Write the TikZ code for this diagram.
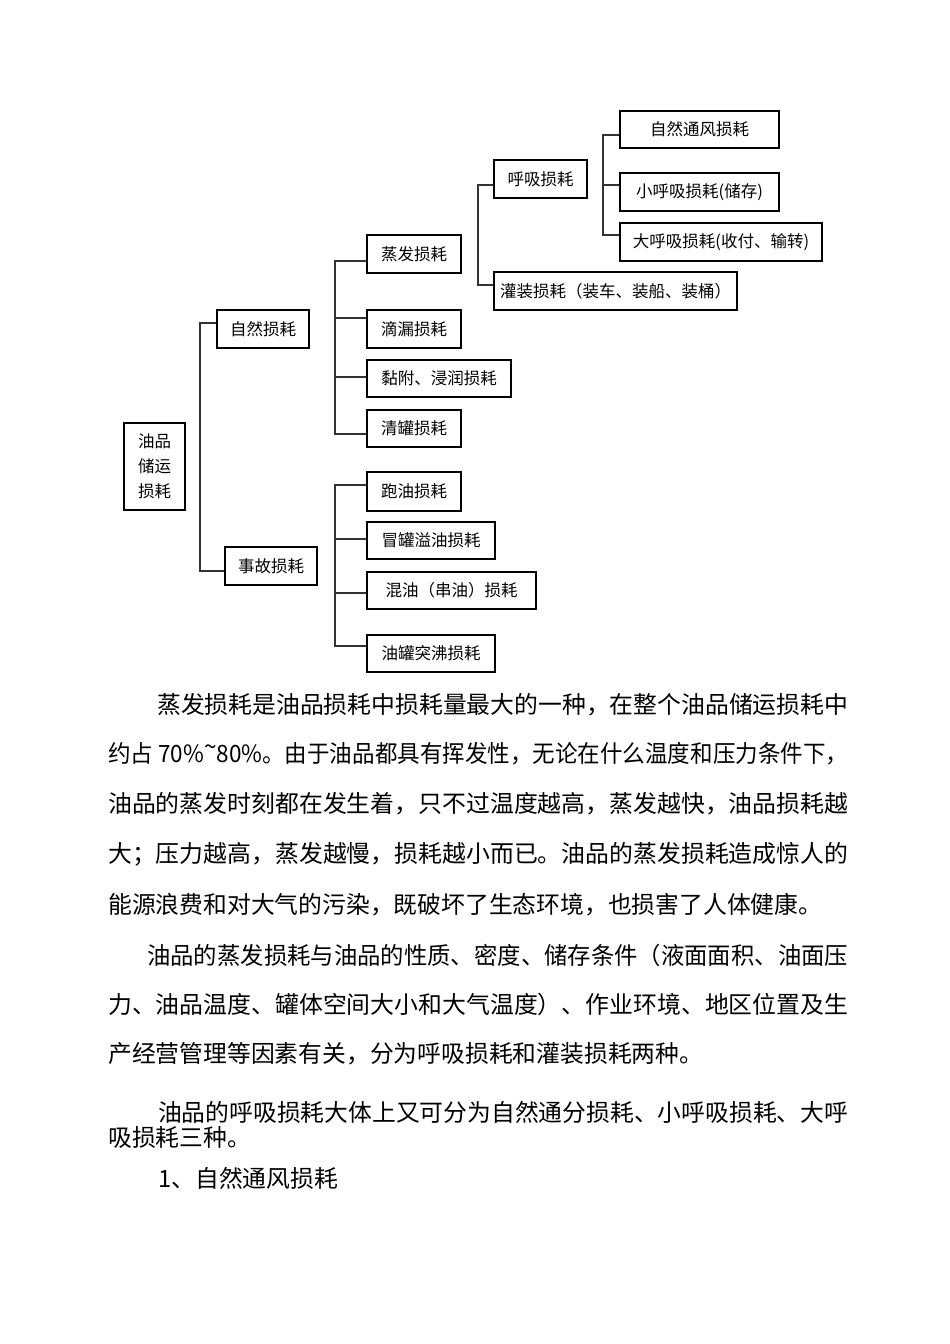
\documentclass[tikz,border=0pt]{standalone}
\usepackage{fontspec}
\setmainfont{Noto Sans CJK SC}
\usepackage{graphicx}
\tikzset{
  box/.style={draw=black, line width=1.2pt, inner sep=0pt, align=center,
    font=\fontsize{16.5}{25}\selectfont},
  conn/.style={draw=black!80, line width=1.2pt},
  para/.style={inner sep=0pt, anchor=west, font=\fontsize{23.8}{28}\selectfont}
}
\newcommand{\fitw}[2]{\resizebox{#1pt}{\height}{#2}}
\begin{document}
\begin{tikzpicture}[x=1pt,y=-1pt]
\useasboundingbox (0,0) rectangle (950,1344);
% ---------- boxes ----------
\node[box, minimum width=61, minimum height=87] (root) at (154.5,466.5) {油品\\储运\\损耗};
\node[box, minimum width=92, minimum height=38] (ziran) at (263,329) {自然损耗};
\node[box, minimum width=92, minimum height=38] (shigu) at (271,566) {事故损耗};
\node[box, minimum width=94, minimum height=38] (zhengfa) at (414,254) {蒸发损耗};
\node[box, minimum width=94, minimum height=38] (dilou) at (414,329) {滴漏损耗};
\node[box, minimum width=144, minimum height=37] (nianfu) at (439,378.5) {黏附、浸润损耗};
\node[box, minimum width=94, minimum height=37] (qingguan) at (414,428.5) {清罐损耗};
\node[box, minimum width=94, minimum height=39] (paoyou) at (414,491.5) {跑油损耗};
\node[box, minimum width=128, minimum height=37] (maoguan) at (431,540.5) {冒罐溢油损耗};
\node[box, minimum width=169, minimum height=37] (hunyou) at (451.5,590.5) {混油（串油）损耗};
\node[box, minimum width=128, minimum height=37] (tufei) at (431,653.5) {油罐突沸损耗};
\node[box, minimum width=93, minimum height=38] (huxi) at (540.5,179) {呼吸损耗};
\node[box, minimum width=243, minimum height=38] (guanzhuang) at (615.5,291) {灌装损耗（装车、装船、装桶）};
\node[box, minimum width=159, minimum height=37] (tongfeng) at (699.5,129.5) {自然通风损耗};
\node[box, minimum width=159, minimum height=38] (xiaohuxi) at (699.5,192) {小呼吸损耗(储存)};
\node[box, minimum width=202, minimum height=38] (dahuxi) at (721,242) {大呼吸损耗(收付、输转)};
% ---------- trunk points ----------
\coordinate (t1a) at (200,323);
\coordinate (t1b) at (200,571);
\coordinate (t2a) at (335,261);
\coordinate (t2b) at (335,318);
\coordinate (t2c) at (335,377);
\coordinate (t2d) at (335,434);
\coordinate (t3a) at (335,485);
\coordinate (t3b) at (335,539);
\coordinate (t3c) at (335,593);
\coordinate (t3d) at (335,646);
\coordinate (t4a) at (478,185);
\coordinate (t4b) at (478,285);
\coordinate (t5a) at (603,135);
\coordinate (t5b) at (603,185);
\coordinate (t5c) at (603,235);
% ---------- connectors ----------
\draw[conn] (t1a -| ziran.west) -- (t1a) -- (t1b) -- (t1b -| shigu.west);
\draw[conn] (t2a -| zhengfa.west) -- (t2a) -- (t2d) -- (t2d -| qingguan.west);
\draw[conn] (t2b) -- (t2b -| dilou.west);
\draw[conn] (t2c) -- (t2c -| nianfu.west);
\draw[conn] (t3a -| paoyou.west) -- (t3a) -- (t3d) -- (t3d -| tufei.west);
\draw[conn] (t3b) -- (t3b -| maoguan.west);
\draw[conn] (t3c) -- (t3c -| hunyou.west);
\draw[conn] (t4a -| huxi.west) -- (t4a) -- (t4b) -- (t4b -| guanzhuang.west);
\draw[conn] (t5a -| tongfeng.west) -- (t5a) -- (t5c) -- (t5c -| dahuxi.west);
\draw[conn] (t5b) -- (t5b -| xiaohuxi.west);
% ---------- paragraphs ----------
\node[para] (p1a) at (157,705) {\fitw{691}{蒸发损耗是油品损耗中损耗量最大的一种，在整个油品储运损耗中}};
\node[para] (p1b) at (108,754) {\fitw{740}{约占 70\%\raisebox{0.3em}{\textasciitilde}80\%。由于油品都具有挥发性，无论在什么温度和压力条件下，}};
\node[para] (p1c) at (108,804) {\fitw{740}{油品的蒸发时刻都在发生着，只不过温度越高，蒸发越快，油品损耗越}};
\node[para] (p1d) at (108,854) {\fitw{740}{大；压力越高，蒸发越慢，损耗越小而已。油品的蒸发损耗造成惊人的}};
\node[para] (p1e) at (108,905) {能源浪费和对大气的污染，既破坏了生态环境，也损害了人体健康。};
\node[para] (p2a) at (147,955) {\fitw{701}{油品的蒸发损耗与油品的性质、密度、储存条件（液面面积、油面压}};
\node[para] (p2b) at (108,1004) {\fitw{740}{力、油品温度、罐体空间大小和大气温度）、作业环境、地区位置及生}};
\node[para] (p2c) at (108,1054) {产经营管理等因素有关，分为呼吸损耗和灌装损耗两种。};
\node[para] (p3a) at (158,1112) {\fitw{690}{油品的呼吸损耗大体上又可分为自然通分损耗、小呼吸损耗、大呼}};
\node[para] (p3b) at (108,1137) {吸损耗三种。};
\node[para] (p4) at (158,1178) {1、自然通风损耗};
\end{tikzpicture}
\end{document}
